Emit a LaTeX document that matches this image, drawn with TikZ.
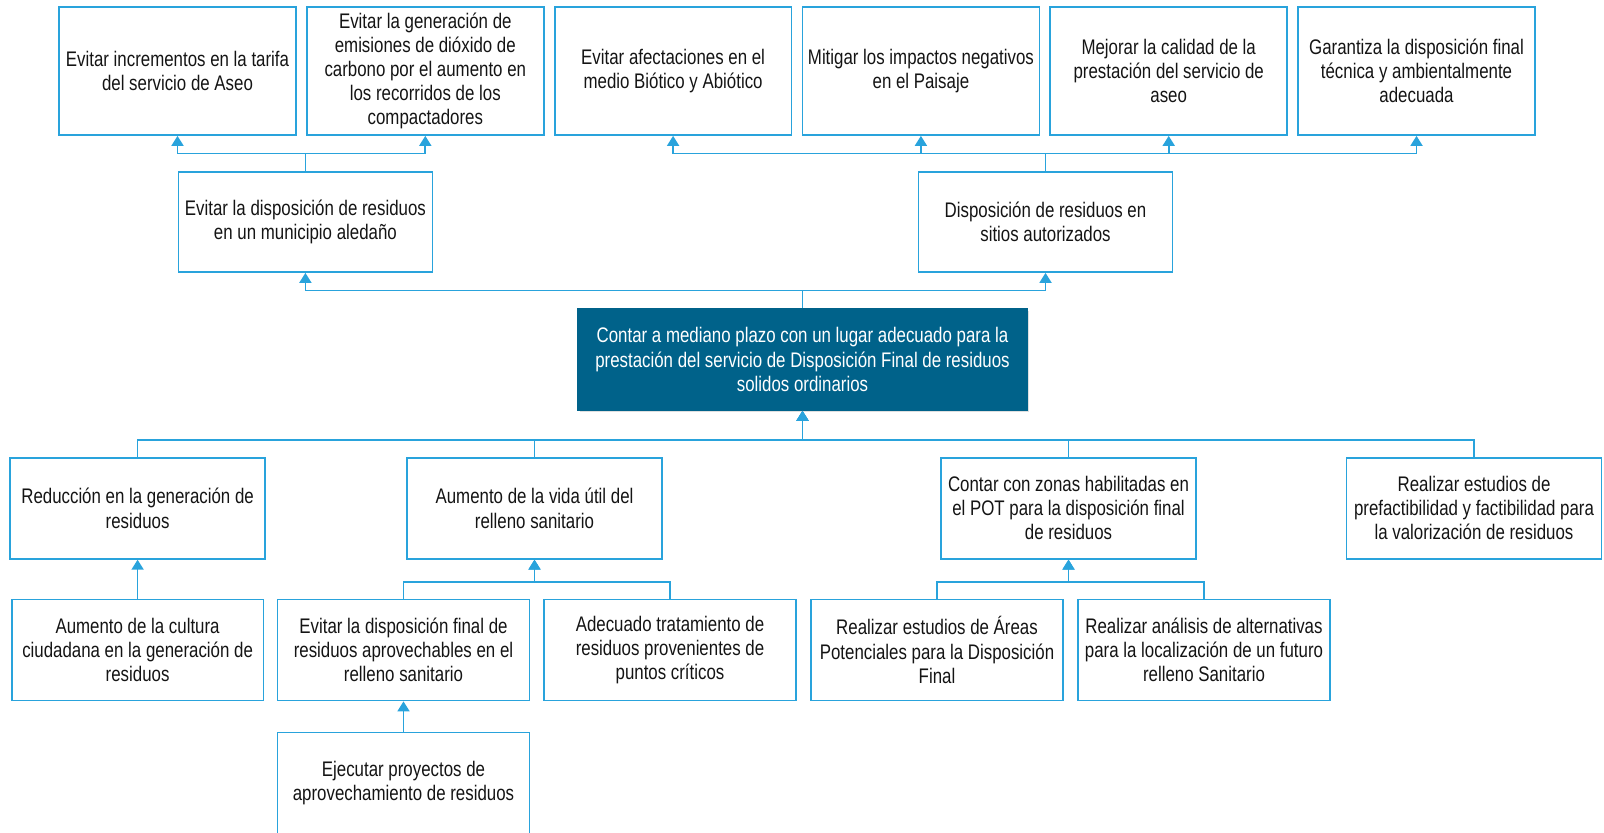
\documentclass[tikz,border=0pt]{standalone}
\usepackage{fontspec}
\setmainfont{Liberation Sans}[FakeStretch=0.8]
\usetikzlibrary{arrows.meta,shadows}
\definecolor{lineblue}{RGB}{41,163,220}
\definecolor{goalblue}{RGB}{0,98,138}
\definecolor{txt}{RGB}{20,20,20}
\tikzset{
  box/.style={
    draw = lineblue,
    line width = 0.035cm,
    shape = rectangle,
    align = center,
    text = txt,
    inner sep = 0.05cm,
    font = \fontsize{12pt}{13.7pt}\selectfont
  },
  fbox/.style={
    box,
    minimum width = 4.74cm,
    minimum height = 2.56cm
  },
  mbox/.style={
    box,
    minimum width = 5.08cm,
    minimum height = 2.0cm
  },
  lbox/.style={
    box,
    minimum width = 5.04cm,
    minimum height = 2.02cm
  },
  goal/.style={
    box,
    draw = goalblue,
    fill = goalblue,
    text = white,
    minimum width = 8.98cm,
    minimum height = 2.02cm,
    drop shadow = {opacity=0.25, shadow xshift=0.04cm, shadow yshift=-0.04cm}
  },
}
\tikzset{
  wire/.style={
    draw = lineblue,
    line width = 0.035cm
  },
  arr/.style={
    wire,
    -{Triangle[width=0.24cm,length=0.2cm]}
  },
}

\begin{document}
\begin{tikzpicture}[x=0.02cm,y=-0.02cm]
\useasboundingbox (0,0) rectangle (1604,832);
\coordinate (bus1) at (0,153.5);
\coordinate (bus2) at (0,290.5);
\coordinate (bus3) at (0,440);
\coordinate (bus4) at (0,582);
		  \foreach \n/\t [count=\i from 0] in {
		    b1/{Evitar incrementos en la tarifa\\del servicio de Aseo},
		    b2/{Evitar la generación de\\emisiones de dióxido de\\carbono por el aumento en\\los recorridos de los\\compactadores},
		    b3/{Evitar afectaciones en el\\medio Biótico y Abiótico},
		    b4/{Mitigar los impactos negativos\\en el Paisaje},
		    b5/{Mejorar la calidad de la\\prestación del servicio de\\aseo},
		    b6/{Garantiza la disposición final\\técnica y ambientalmente\\adecuada}}{
		    \node[fbox] (\n) at ({177.5+247.8*\i},71) {\t}; }
\node[mbox] (m1) at (305.4,222) {Evitar la disposición de residuos\\en un municipio aledaño};
\node[mbox] (m2) at (1045.5,222) {Disposición de residuos en\\sitios autorizados};
\node[goal] (c) at (802.5,359.5) {Contar a mediano plazo con un lugar adecuado para la\\prestación del servicio de Disposición Final de residuos\\solidos ordinarios};
\node[lbox, minimum width=5.1cm] (r1) at (137.6,508.3) {Reducción en la generación de\\residuos};
\node[lbox, minimum width=5.1cm] (r2) at (534.5,508.3) {Aumento de la vida útil del\\relleno sanitario};
\node[lbox, minimum width=5.1cm] (r3) at (1068.5,508.3) {Contar con zonas habilitadas en\\el POT para la disposición final\\de residuos};
\node[lbox, minimum width=5.1cm] (r4) at (1474,508.3) {Realizar estudios de\\prefactibilidad y factibilidad para\\la valorización de residuos};
\node[lbox] (s1) at (137.6,650) {Aumento de la cultura\\ciudadana en la generación de\\residuos};
\node[lbox] (s2) at (403.5,650) {Evitar la disposición final de\\residuos aprovechables en el\\relleno sanitario};
\node[lbox] (s3) at (670,650) {Adecuado tratamiento de\\residuos provenientes de\\puntos críticos};
\node[lbox] (s4) at (937,650) {Realizar estudios de Áreas\\Potenciales para la Disposición\\Final};
\node[lbox] (s5) at (1204,650) {Realizar análisis de alternativas\\para la localización de un futuro\\relleno Sanitario};
\node[lbox] (t1) at (403.5,783) {Ejecutar proyectos de\\aprovechamiento de residuos};
		  \foreach \n in {b1,b2}{
		    \draw[arr] (m1.north) -- (m1.north |- bus1) -| (\n.south); }
		  \foreach \n in {b3,b4,b5,b6}{
		    \draw[arr] (m2.north) -- (m2.north |- bus1) -| (\n.south); }
		  \foreach \n in {m1,m2}{
		    \draw[arr] (c.north) -- (c.north |- bus2) -| (\n.south); }
		  \foreach \n in {r1,r2,r3,r4}{
		    \draw[arr] (\n.north) -- (\n.north |- bus3) -| (c.south); }
		  \foreach \n in {s2,s3}{
		    \draw[arr] (\n.north) -- (\n.north |- bus4) -| (r2.south); }
		  \foreach \n in {s4,s5}{
		    \draw[arr] (\n.north) -- (\n.north |- bus4) -| (r3.south); }
\draw[arr] (s1) -- (r1);
\draw[arr] (t1) -- (s2);
\end{tikzpicture}
\end{document}
